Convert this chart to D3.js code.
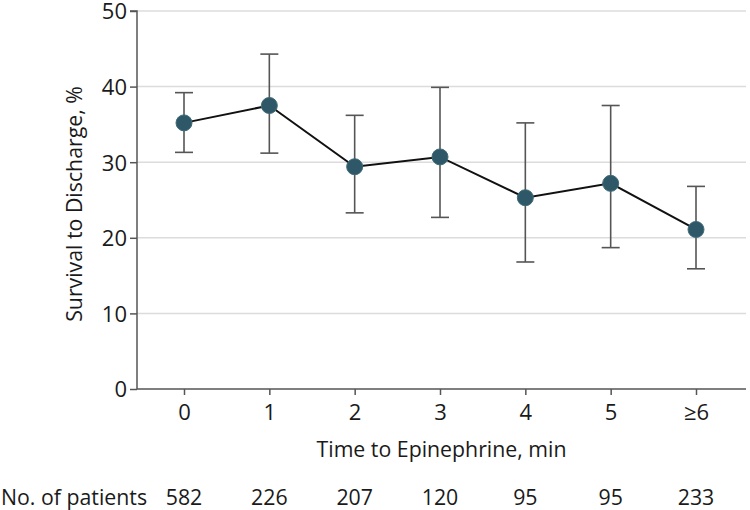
<!DOCTYPE html>
<html><head><meta charset="utf-8">
<script src="https://cdn.jsdelivr.net/npm/d3@7"></script>
<style>body{margin:0;background:#fff}svg{display:block}text{font-family:"Open Sans","Noto Sans",sans-serif;fill:#1a1a1a}</style>
</head><body><svg id="c" width="750" height="510"></svg>
<script>
const categories = ["0","1","2","3","4","5","≥6"];
const survival = [35.2, 37.5, 29.4, 30.7, 25.3, 27.2, 21.1];
const ciLow = [31.3, 31.2, 23.3, 22.7, 16.8, 18.7, 15.9];
const ciHigh = [39.2, 44.3, 36.2, 39.9, 35.2, 37.5, 26.8];
const patients = [582, 226, 207, 120, 95, 95, 233];
const yTicks = [0, 10, 20, 30, 40, 50];

(function () {
const svg = d3.select("#c");
const pLeft = 137, pRight = 746, pTop = 11, pBottom = 389;
const fsTick = 22, fsTitle = 21.3;
const x = d3.scalePoint().domain(categories).range([184, 696]);
const y = d3.scaleLinear().domain([0, 50]).range([pBottom, pTop]);

// gridlines
svg.append("g").selectAll("line").data(yTicks.filter(d => d > 0)).join("line")
  .attr("x1", pLeft).attr("x2", pRight).attr("y1", d => y(d)).attr("y2", d => y(d))
  .attr("stroke", "#dcdcdc").attr("stroke-width", 1.5);

// y axis
const ya = svg.append("g").attr("transform", `translate(${pLeft},0)`)
  .call(d3.axisLeft(y).tickValues(yTicks).tickSize(7).tickPadding(3));
ya.attr("font-family", null).attr("font-size", null);
ya.select(".domain").attr("stroke", "#555").attr("stroke-width", 1.5).attr("d", `M-7,${pTop}H0V${pBottom}`);
ya.selectAll(".tick line").attr("stroke", "#555").attr("stroke-width", 1.5);
ya.selectAll(".tick text").attr("font-size", fsTick).attr("fill", "#1a1a1a").attr("dy", "0.36em");

// x axis
const xa = svg.append("g").attr("transform", `translate(0,${pBottom})`)
  .call(d3.axisBottom(x).tickSize(6).tickPadding(6));
xa.attr("font-family", null).attr("font-size", null);
xa.select(".domain").attr("stroke", "#555").attr("stroke-width", 1.5).attr("d", `M${pLeft},0H${pRight}`);
xa.selectAll(".tick line").attr("stroke", "#555").attr("stroke-width", 1.5);
xa.selectAll(".tick text").attr("font-size", fsTick).attr("fill", "#1a1a1a")
  .attr("y", 31).attr("dy", null);

// titles
svg.append("text").attr("x", 441.5).attr("y", 457).attr("text-anchor", "middle")
  .attr("font-size", fsTitle).text("Time to Epinephrine, min");
svg.append("text").attr("transform", "translate(82,204) rotate(-90)").attr("text-anchor", "middle")
  .attr("font-size", fsTitle).text("Survival to Discharge, %");

// patients row
svg.append("text").attr("x", 1).attr("y", 505).attr("font-size", fsTitle).text("No. of patients");
svg.append("g").selectAll("text").data(patients).join("text")
  .attr("x", (d, i) => x(categories[i])).attr("y", 505).attr("text-anchor", "middle")
  .attr("font-size", fsTitle).text(d => d);

// error bars
const eb = svg.append("g").attr("stroke", "#555").attr("stroke-width", 1.6);
categories.forEach((c, i) => {
  const cx = x(c);
  eb.append("line").attr("x1", cx).attr("x2", cx).attr("y1", y(ciLow[i])).attr("y2", y(ciHigh[i]));
  eb.append("line").attr("x1", cx - 9).attr("x2", cx + 9).attr("y1", y(ciLow[i])).attr("y2", y(ciLow[i]));
  eb.append("line").attr("x1", cx - 9).attr("x2", cx + 9).attr("y1", y(ciHigh[i])).attr("y2", y(ciHigh[i]));
});

// line
svg.append("path").datum(survival)
  .attr("d", d3.line().x((d, i) => x(categories[i])).y(d => y(d)))
  .attr("fill", "none").attr("stroke", "#111").attr("stroke-width", 2);

// points
svg.append("g").selectAll("circle").data(survival).join("circle")
  .attr("cx", (d, i) => x(categories[i])).attr("cy", d => y(d)).attr("r", 8)
  .attr("fill", "#2e5867").attr("stroke", "#3f6b79").attr("stroke-width", 1);
})();
</script></body></html>
